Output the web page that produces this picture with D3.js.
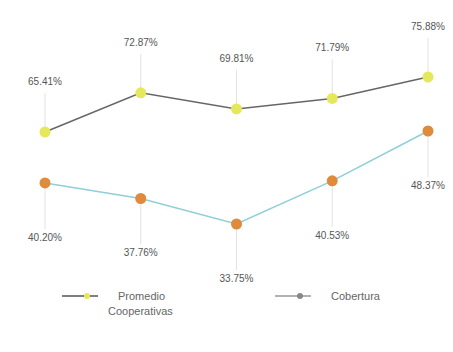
<!DOCTYPE html>
<html>
<head>
<meta charset="utf-8">
<script src="https://cdn.jsdelivr.net/npm/d3@7"></script>
<style>
  body { margin: 0; background: #fff; }
  text { font-family: "Liberation Sans", Arial, sans-serif; }
</style>
</head>
<body>
<div id="chart"></div>
<script>
// periods (categories), no visible axis labels
let periods = ["P1", "P2", "P3", "P4", "P5"];
let promedio = [65.41, 72.87, 69.81, 71.79, 75.88];
let cobertura = [40.20, 37.76, 33.75, 40.53, 48.37];
let legendNames = [["Promedio", "Cooperativas"], ["Cobertura"]];

let width = 453, height = 352;

let svg = d3.select("#chart").append("svg")
  .attr("width", width)
  .attr("height", height);

let x = d3.scalePoint()
  .domain(periods)
  .range([45, 428]);

// each series has its own hidden y scale
let yTop = d3.scaleLinear()
  .domain([65.41, 75.88])
  .range([132, 77]);
let yLow = d3.scaleLinear()
  .domain([33.75, 48.37])
  .range([224, 131]);

function drawSeries(values, y, lineColor, dotColor, labelOffset) {
  let g = svg.append("g");
  let data = values.map((v, i) => ({ k: periods[i], v: v }));

  //leader lines from point to label
  g.selectAll(".leader")
    .data(data)
    .enter().append("line")
    .attr("x1", d => x(d.k))
    .attr("x2", d => x(d.k))
    .attr("y1", d => y(d.v))
    .attr("y2", d => y(d.v) + labelOffset + (labelOffset < 0 ? 8 : -12))
    .attr("stroke", "#e2e2e2")
    .attr("stroke-width", 1);

  let line = d3.line()
    .x(d => x(d.k))
    .y(d => y(d.v));

  g.append("path")
    .datum(data)
    .attr("d", line)
    .attr("fill", "none")
    .attr("stroke", lineColor)
    .attr("stroke-width", 1.5);

  g.selectAll("circle")
    .data(data)
    .enter().append("circle")
    .attr("cx", d => x(d.k))
    .attr("cy", d => y(d.v))
    .attr("r", 5.5)
    .attr("fill", dotColor);

  g.selectAll(".lbl")
    .data(data)
    .enter().append("text")
    .attr("x", d => x(d.k))
    .attr("y", d => y(d.v) + labelOffset)
    .attr("text-anchor", "middle")
    .attr("font-size", 10)
    .attr("fill", "#555")
    .text(d => d.v.toFixed(2) + "%");
}

drawSeries(cobertura, yLow, "#8fcfd6", "#e08a3c", 58);
drawSeries(promedio, yTop, "#666", "#e6e85c", -47);

//legend
let legend = svg.append("g").attr("transform", "translate(0,296)");
let items = [
  { x: 62, line: "#555", dot: "#e6e85c", names: legendNames[0] },
  { x: 275, line: "#999", dot: "#888", names: legendNames[1] }
];
items.forEach(it => {
  legend.append("line")
    .attr("x1", it.x).attr("x2", it.x + 36)
    .attr("y1", 0).attr("y2", 0)
    .attr("stroke", it.line).attr("stroke-width", 1.5);
  legend.append("circle")
    .attr("cx", it.x + 25).attr("cy", 0).attr("r", 3)
    .attr("fill", it.dot);
  it.names.forEach((n, j) => {
    legend.append("text")
      .attr("x", it.x + 56 + (j > 0 ? -10 : 0))
      .attr("y", 4 + j * 15)
      .attr("font-size", 11)
      .attr("fill", "#666")
      .text(n);
  });
});
</script>
</body>
</html>
